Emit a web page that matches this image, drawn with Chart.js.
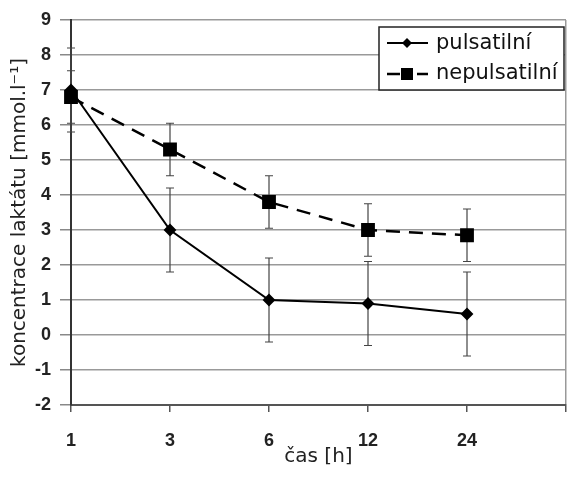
<!DOCTYPE html>
<html>
<head>
<meta charset="utf-8">
<script src="https://cdn.jsdelivr.net/npm/chart.js@4.4.0/dist/chart.umd.min.js"></script>
<style>
	body { margin: 0; background: #fff; }
	#wrap { width: 568px; height: 482px; }
</style>
</head>
<body>
<div id="wrap"><canvas id="lactateChart" width="568" height="482"></canvas></div>
<script>
// hodnoty
const hours = ['1', '3', '6', '12', '24'];
const pulsatile = [7.0, 3.0, 1.0, 0.9, 0.6];
const pulsatileErr = [1.2, 1.2, 1.2, 1.2, 1.2];
const nonPulsatile = [6.8, 5.3, 3.8, 3.0, 2.85];
const nonPulsatileErr = [0.75, 0.75, 0.75, 0.75, 0.75];
const yMin = -2;
const yMax = 9;
const seriesNames = ['pulsatilní', 'nepulsatilní'];

document.addEventListener('DOMContentLoaded', function() {
	const tickFont = { family: 'Liberation Sans, Arial, sans-serif', size: 18, weight: 'bold' };
	const titleFont = { family: 'DejaVu Sans, Verdana, sans-serif', size: 20 };

	// chybové úsečky pod body
	const errorBars = {
		id: 'errorBars',
		beforeDatasetsDraw: function(chart) {
			const ctx = chart.ctx;
			const yScale = chart.scales.y;
			const errs = [pulsatileErr, nonPulsatileErr];
			ctx.save();
			ctx.strokeStyle = '#444';
			ctx.lineWidth = 1.2;
			chart.data.datasets.forEach(function(ds, i) {
				const meta = chart.getDatasetMeta(i);
				meta.data.forEach(function(pt, j) {
					const v = ds.data[j];
					const top = yScale.getPixelForValue(v + errs[i][j]);
					const bot = yScale.getPixelForValue(v - errs[i][j]);
					ctx.beginPath();
					ctx.moveTo(pt.x, top);
					ctx.lineTo(pt.x, bot);
					ctx.moveTo(pt.x - 4, top);
					ctx.lineTo(pt.x + 4, top);
					ctx.moveTo(pt.x - 4, bot);
					ctx.lineTo(pt.x + 4, bot);
					ctx.stroke();
				});
			});
			ctx.restore();
		}
	};

	// legenda uvnitř grafu vpravo nahoře
	const boxLegend = {
		id: 'boxLegend',
		afterDraw: function(chart) {
			const ctx = chart.ctx;
			const area = chart.chartArea;
			const x0 = 379, y0 = 27, w = area.right - x0 - 2, h = 63;
			ctx.save();
			ctx.fillStyle = '#fff';
			ctx.fillRect(x0, y0, w, h);
			ctx.strokeStyle = '#222';
			ctx.lineWidth = 1.5;
			ctx.strokeRect(x0, y0, w, h);

			ctx.strokeStyle = '#000';
			ctx.fillStyle = '#000';
			ctx.lineWidth = 2;
			// pulsatilní
			ctx.beginPath();
			ctx.moveTo(387, 43);
			ctx.lineTo(428, 43);
			ctx.stroke();
			ctx.beginPath();
			ctx.moveTo(402, 43);
			ctx.lineTo(407, 38);
			ctx.lineTo(412, 43);
			ctx.lineTo(407, 48);
			ctx.closePath();
			ctx.fill();
			// nepulsatilní
			ctx.lineWidth = 2.5;
			ctx.beginPath();
			ctx.moveTo(387, 74);
			ctx.lineTo(400, 74);
			ctx.moveTo(417, 74);
			ctx.lineTo(428, 74);
			ctx.stroke();
			ctx.fillRect(401, 68, 12, 12);

			ctx.font = '21px "DejaVu Sans", Verdana, sans-serif';
			ctx.textBaseline = 'middle';
			ctx.fillStyle = '#111';
			ctx.fillText(seriesNames[0], 436, 44);
			ctx.fillText(seriesNames[1], 436, 74);
			ctx.restore();
		}
	};

	const ctx = document.getElementById('lactateChart').getContext('2d');
	const chart = new Chart(ctx, {
		type: 'line',
		data: {
			labels: hours.concat(['']),
			datasets: [
				{
					label: seriesNames[0],
					data: pulsatile,
					borderColor: '#000',
					backgroundColor: '#000',
					borderWidth: 2,
					pointStyle: 'rectRot',
					pointRadius: 5,
					tension: 0
				},
				{
					label: seriesNames[1],
					data: nonPulsatile,
					borderColor: '#000',
					backgroundColor: '#000',
					borderWidth: 2.5,
					borderDash: [14, 9],
					pointStyle: 'rect',
					pointRadius: 8,
					tension: 0
				}
			]
		},
		options: {
			responsive: false,
			animation: false,
			layout: { autoPadding: false, padding: { top: 20, right: 2, left: 0, bottom: 0 } },
			plugins: {
				legend: { display: false },
				tooltip: { enabled: false }
			},
			scales: {
				x: {
					type: 'category',
					offset: false,
					afterFit: function(scale) {
						scale.height = 77;
						scale.paddingRight = 0;
					},
					grid: {
						color: function(c) { return c.index === 5 ? '#999' : 'rgba(0,0,0,0)'; },
						tickColor: '#555',
						tickLength: 7,
						lineWidth: 1.5
					},
					border: { color: '#555', width: 2 },
					ticks: { font: tickFont, color: '#222', padding: 18, maxRotation: 0, autoSkip: false },
					title: { display: true, text: 'čas [h]', font: titleFont, color: '#222', padding: { top: 13, bottom: 13 } }
				},
				y: {
					min: yMin,
					max: yMax,
					afterFit: function(scale) { scale.width = 71; },
					grid: { color: '#999', lineWidth: 1.5, tickLength: 11, tickColor: '#888' },
					border: { color: '#333', width: 2 },
					ticks: { font: tickFont, color: '#222', padding: 9, stepSize: 1 },
					title: { display: true, text: 'koncentrace laktátu [mmol.l⁻¹]', font: titleFont, color: '#222', padding: { top: 8, bottom: 8 } }
				}
			}
		},
		plugins: [errorBars, boxLegend]
	});
	console.log(chart);
});
</script>
</body>
</html>
